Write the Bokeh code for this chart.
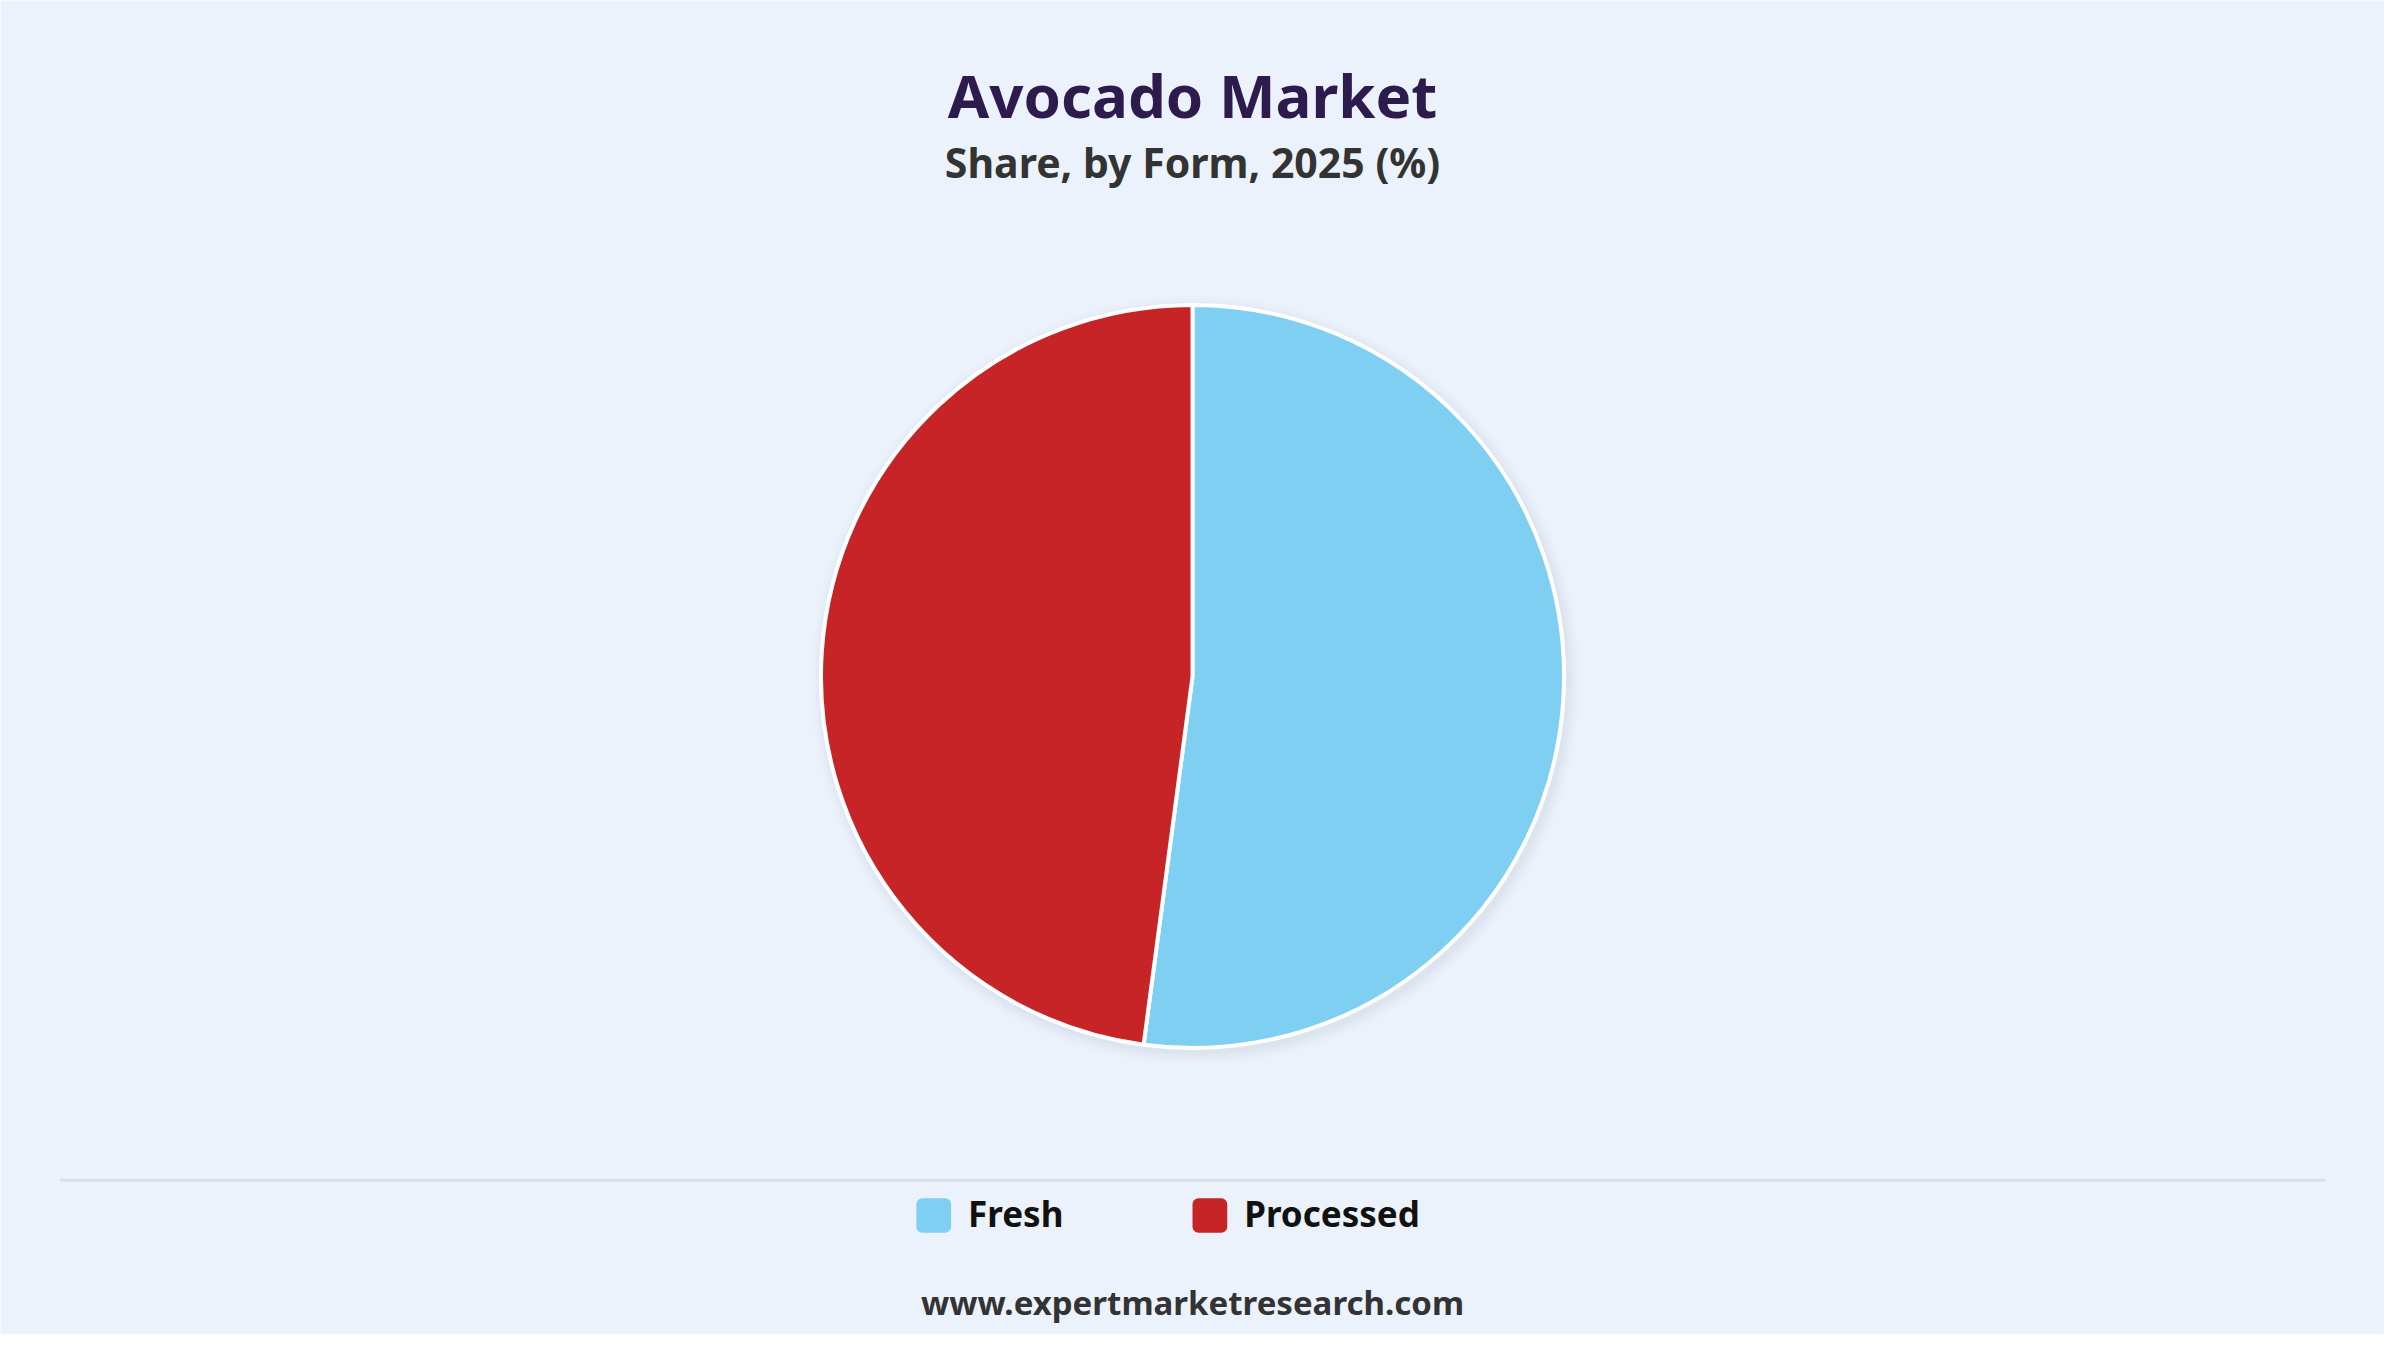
from bokeh.plotting import figure
from bokeh.models import Range1d
from bokeh.core.properties import value
from bokeh.embed import file_html
from bokeh.resources import INLINE
import numpy as np

# ---- data ----
categories = ["Fresh", "Processed"]
shares = [52.1, 47.9]
colors = ["#7FCFF2", "#C62426"]
title_text = "Avocado Market"
subtitle_text = "Share, by Form, 2025 (%)"
footer_text = "www.expertmarketresearch.com"

BG = "#EBF2FB"
W, H = 2384, 1334
FONT = "Noto Sans"

def Y(screen_y):
    # reference-image y (top-down) -> data y (bottom-up)
    return 1350 - screen_y

def TB(baseline, fs):
    # compensate Bokeh's text baseline offset
    return Y(baseline - 0.4 * fs)

p = figure(width=W, height=H, output_backend="svg", toolbar_location=None,
           x_range=Range1d(0, 2400), y_range=Range1d(0, 1350),
           min_border=0, background_fill_color=BG, border_fill_color=BG)
p.axis.visible = False
p.grid.visible = False
p.outline_line_color = None

# ---- pie ----
cx, cy, r = 1200, Y(684), 374
for i, a in enumerate([0.035, 0.03, 0.025, 0.02, 0.015]):
    p.circle(x=cx + 3, y=cy - 4, radius=r + 3 + i * 2.5, fill_color="#8a93a3",
             fill_alpha=a, line_color=None)

total = float(sum(shares))
fr = np.array(shares) / total
ends = np.cumsum(fr) * 2 * np.pi
starts = np.concatenate([[0.0], ends[:-1]])
start_angle = np.pi / 2 - starts
end_angle = np.pi / 2 - ends
p.wedge(x=cx, y=cy, radius=r, start_angle=start_angle, end_angle=end_angle,
        direction="clock", fill_color=colors, line_color="white", line_width=4)

# ---- titles ----
p.text(x=[1200], y=[TB(120, 60)], text=[title_text], text_align="center",
       text_baseline="alphabetic", text_font=value(FONT), text_font_style="bold",
       text_font_size="60px", text_color="#2D1B4E")
p.text(x=[1200], y=[TB(180, 41)], text=[subtitle_text], text_align="center",
       text_baseline="alphabetic", text_font=value(FONT), text_font_style="bold",
       text_font_size="41px", text_color="#333333")

# ---- separator ----
p.segment(x0=[60], y0=[Y(1194)], x1=[2340], y1=[Y(1194)], line_color="#DCDEE2",
          line_width=3)

# ---- legend ----
leg_x = [922, 1200]
sq = 35
for xi, c, lab in zip(leg_x, colors, categories):
    p.quad(left=[xi], right=[xi + sq], top=[Y(1212)], bottom=[Y(1212 + sq)],
           fill_color=c, line_color=None, border_radius=6)
    p.text(x=[xi + sq + 17], y=[TB(1242, 35)], text=[lab], text_align="left",
           text_baseline="alphabetic", text_font=value(FONT), text_font_style="bold",
           text_font_size="35px", text_color="#111111")

# ---- footer ----
p.text(x=[1200], y=[TB(1331, 33)], text=[footer_text], text_align="center",
       text_baseline="alphabetic", text_font=value(FONT), text_font_style="bold",
       text_font_size="33px", text_color="#333333")

open("out.html", "w").write(file_html(p, INLINE))
